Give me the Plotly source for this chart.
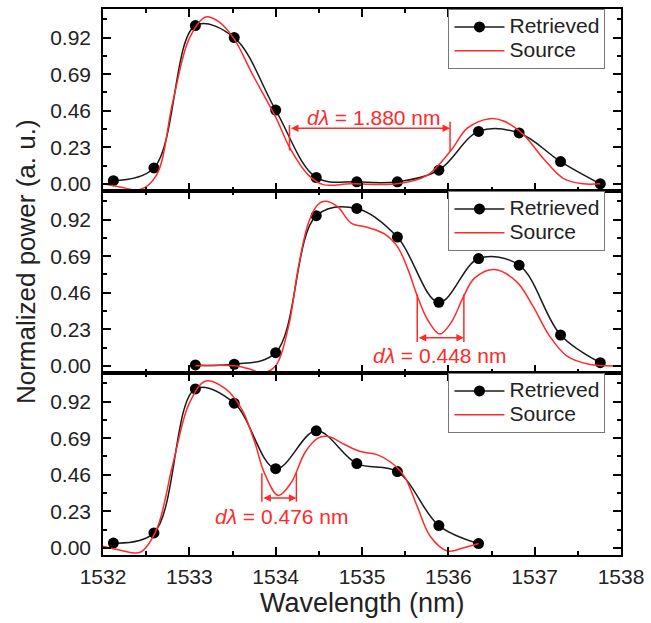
import plotly.graph_objects as go

# ---------------- data ----------------
ret_top_x = [1532.12, 1532.59, 1533.07, 1533.52, 1534.00, 1534.47, 1534.94,
             1535.41, 1535.89, 1536.35, 1536.82, 1537.30, 1537.76]
ret_top_y = [0.02, 0.10, 0.996, 0.92, 0.464, 0.04, 0.013, 0.013, 0.086, 0.33,
             0.32, 0.14, 0.0]
src_top_x = [1532.00, 1532.20, 1532.43, 1532.62, 1532.81, 1533.00, 1533.19,
             1533.34, 1533.52, 1533.73, 1534.00, 1534.17, 1534.38, 1534.55,
             1534.87, 1535.41, 1535.76, 1536.03, 1536.22, 1536.48, 1536.64,
             1536.87, 1537.10, 1537.33, 1537.56, 1537.76]
src_top_y = [0.00, -0.02, -0.036, 0.055, 0.52, 0.915, 1.05, 1.02, 0.91, 0.69,
             0.42, 0.22, 0.055, -0.005, 0.0, 0.0, 0.055, 0.21, 0.35, 0.41,
             0.395, 0.31, 0.16, 0.035, 0.0, 0.0]

ret_mid_x = [1533.07, 1533.52, 1534.00, 1534.47, 1534.94, 1535.41, 1535.89,
             1536.35, 1536.82, 1537.30, 1537.76]
ret_mid_y = [0.006, 0.01, 0.083, 0.945, 0.99, 0.81, 0.40, 0.675, 0.633,
             0.194, 0.02]
src_mid_x = [1533.07, 1533.52, 1533.70, 1533.84, 1534.00, 1534.15, 1534.26,
             1534.38, 1534.49, 1534.57, 1534.72, 1534.87, 1535.07, 1535.26,
             1535.41, 1535.53, 1535.64, 1535.76, 1535.90, 1536.03, 1536.18,
             1536.30, 1536.53, 1536.79, 1536.98, 1537.17, 1537.37, 1537.63,
             1538.00]
src_mid_y = [0.0, 0.0, -0.02, -0.045, 0.0, 0.25, 0.61, 0.90, 1.015, 1.035,
             1.00, 0.90, 0.87, 0.83, 0.75, 0.61, 0.44, 0.29, 0.20, 0.27, 0.44,
             0.55, 0.606, 0.53, 0.376, 0.19, 0.063, 0.01, 0.0]

ret_bot_x = [1532.12, 1532.59, 1533.07, 1533.52, 1534.00, 1534.47, 1534.94,
             1535.41, 1535.89, 1536.35]
ret_bot_y = [0.03, 0.094, 1.0, 0.91, 0.498, 0.736, 0.53, 0.48, 0.14, 0.027]
src_bot_x = [1532.00, 1532.20, 1532.43, 1532.62, 1532.81, 1533.00, 1533.19,
             1533.42, 1533.61, 1533.76, 1533.87, 1534.03, 1534.18, 1534.34,
             1534.49, 1534.61, 1534.80, 1534.98, 1535.18, 1535.33, 1535.49,
             1535.64, 1535.79, 1535.99, 1536.18, 1536.35]
src_bot_y = [0.01, -0.015, -0.028, 0.115, 0.53, 0.91, 1.05, 1.0, 0.87, 0.66,
             0.47, 0.33, 0.41, 0.60, 0.69, 0.70, 0.65, 0.606, 0.585, 0.54,
             0.45, 0.26, 0.073, -0.02, 0.0, 0.027]

# d-lambda markers
dl_top = dict(x0=1534.16, x1=1536.02, ya=0.35, bl=(0.37, 0.21), br=(0.39, 0.20),
              tx=1535.14, ty=0.42, label="1.880")
dl_mid = dict(x0=1535.64, x1=1536.18, ya=0.177, bl=(0.45, 0.15), br=(0.45, 0.15),
              tx=1535.90, ty=0.063, label="0.448")
dl_bot = dict(x0=1533.84, x1=1534.24, ya=0.314, bl=(0.47, 0.29), br=(0.47, 0.29),
              tx=1534.07, ty=0.198, label="0.476")

x_range = [1532, 1538]
y_range = [-0.045, 1.10]

# ---------------- style ----------------
BLACK = "#1a1a1a"
RED = "#ff2a2a"
FONT = "Liberation Sans, Arial, sans-serif"

fig = go.Figure()

panels = [
    ("1", ret_top_x, ret_top_y, src_top_x, src_top_y, dl_top, "legend", [2/3, 1.0]),
    ("2", ret_mid_x, ret_mid_y, src_mid_x, src_mid_y, dl_mid, "legend2", [1/3, 2/3]),
    ("3", ret_bot_x, ret_bot_y, src_bot_x, src_bot_y, dl_bot, "legend3", [0.0, 1/3]),
]

def big(t):
    return "<span style='font-size:21px'>" + t + "</span>"

shapes = []
annotations = []
layout_axes = {}

for idx, rx, ry, sx, sy, dl, leg, dom in panels:
    xa = "x" if idx == "1" else "x" + idx
    ya = "y" if idx == "1" else "y" + idx
    fig.add_trace(go.Scatter(
        x=rx, y=ry, mode="lines+markers", name=big("Retrieved"),
        line=dict(color=BLACK, width=1.5, shape="spline", smoothing=1.0),
        marker=dict(color="black", size=11),
        xaxis=xa, yaxis=ya, legend=leg))
    fig.add_trace(go.Scatter(
        x=sx, y=sy, mode="lines", name=big("Source"),
        line=dict(color=RED, width=1.5, shape="spline", smoothing=1.0),
        xaxis=xa, yaxis=ya, legend=leg))

    shapes.append(dict(type="line", xref=xa, yref=ya, x0=dl["x0"], x1=dl["x0"],
                       y0=dl["bl"][0], y1=dl["bl"][1], line=dict(color=RED, width=1.5)))
    shapes.append(dict(type="line", xref=xa, yref=ya, x0=dl["x1"], x1=dl["x1"],
                       y0=dl["br"][0], y1=dl["br"][1], line=dict(color=RED, width=1.5)))
    annotations.append(dict(x=dl["x1"], y=dl["ya"], ax=dl["x0"], ay=dl["ya"],
                            xref=xa, yref=ya, axref=xa, ayref=ya, text="",
                            showarrow=True, arrowhead=2, arrowside="end+start",
                            arrowsize=1.0, arrowwidth=1.5, arrowcolor=RED,
                            standoff=0, startstandoff=0))
    annotations.append(dict(x=dl["tx"], y=dl["ty"], xref=xa, yref=ya,
                            text="<i>d\u03bb</i> = " + dl["label"] + " nm",
                            showarrow=False, font=dict(color=RED, size=21, family=FONT),
                            xanchor="center", yanchor="middle"))

    layout_axes["xaxis" + ("" if idx == "1" else idx)] = dict(
        anchor=ya, range=x_range, domain=[0, 1],
        showline=True, linecolor="black", linewidth=1.5, mirror="ticks",
        ticks="inside", ticklen=8, tickwidth=1.5, tickcolor="black",
        tick0=1532, dtick=1,
        minor=dict(ticks="inside", ticklen=4, tickwidth=1.5, tickcolor="black", dtick=0.5),
        showgrid=False, zeroline=False,
        showticklabels=(idx == "3"),
        tickfont=dict(size=21, color="#222", family=FONT),
        ticklabelstandoff=2,
        **({} if idx == "1" else {"matches": "x"}))
    layout_axes["yaxis" + ("" if idx == "1" else idx)] = dict(
        anchor=xa, range=y_range, domain=dom,
        showline=True, linecolor="black", linewidth=1.5, mirror="ticks",
        ticks="inside", ticklen=8, tickwidth=1.5, tickcolor="black",
        tick0=0, dtick=0.23, tickformat=".2f",
        minor=dict(ticks="inside", ticklen=4, tickwidth=1.5, tickcolor="black", dtick=0.115),
        showgrid=False, zeroline=False,
        tickfont=dict(size=21, color="#222", family=FONT),
        ticklabelstandoff=6)

legend_style = dict(xanchor="right", yanchor="top", x=0.97,
                    bgcolor="white", bordercolor="#777", borderwidth=1,
                    font=dict(size=16, color="#222", family=FONT),
                    tracegroupgap=0, itemwidth=50)

annotations.append(dict(xref="paper", yref="paper", x=-0.149, y=0.538,
                        text="Normalized power (a. u.)", textangle=-90,
                        showarrow=False, font=dict(size=26, color="#222", family=FONT),
                        xanchor="center", yanchor="middle"))
annotations.append(dict(xref="paper", yref="paper", x=0.5, y=-0.0876,
                        text="Wavelength (nm)", showarrow=False,
                        font=dict(size=27, color="#222", family=FONT),
                        xanchor="center", yanchor="middle"))

fig.update_layout(
    width=651, height=623,
    margin=dict(l=103, r=26, t=7, b=68),
    paper_bgcolor="white", plot_bgcolor="white",
    font=dict(family=FONT, color="#222"),
    showlegend=True,
    legend=dict(y=1.0, **legend_style),
    legend2=dict(y=2/3, **legend_style),
    legend3=dict(y=1/3, **legend_style),
    shapes=shapes, annotations=annotations,
    **layout_axes)

fig.write_html("out.html")
